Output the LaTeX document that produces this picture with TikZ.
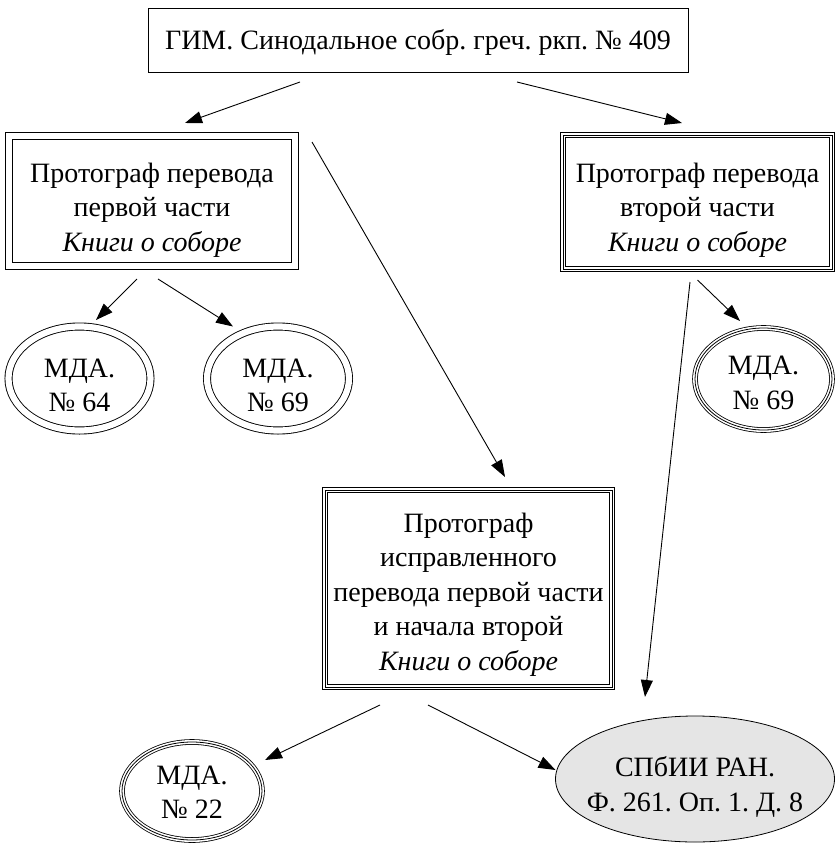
\documentclass[tikz,border=0pt]{standalone}
\usepackage{fontspec}
\setmainfont{Liberation Serif}
\usetikzlibrary{arrows.meta,shapes.geometric}
\frenchspacing
\begin{document}
\begin{tikzpicture}[x=1pt,y=-1pt,
  every node/.style={inner sep=0pt, outer sep=0pt},
  txt/.style={font=\fontsize{28}{34.5}\selectfont, align=center},
  singlebox/.style={rectangle, draw, line width=0.8pt},
  dblbox/.style={rectangle, draw, double, double distance=6.9pt, line width=0.9pt},
  trplbox/.style={rectangle, draw, double, double distance=4.2pt, line width=0.8pt},
  dblell/.style={ellipse, draw, double, double distance=6.2pt, line width=0.9pt},
  trplell/.style={ellipse, draw, double, double distance=4pt, line width=0.8pt},
  grayell/.style={ellipse, draw, line width=0.8pt, fill=black!10},
  midline/.style={line width=0.8pt},
  arr/.style={line width=0.9pt, -{Triangle[length=17pt,width=12pt]}}
]
\useasboundingbox (0,0) rectangle (836,843);

% ---- shapes ----
\node[singlebox, minimum width=540pt, minimum height=64pt] (top) at (418,40) {};
\node[dblbox, minimum width=286pt, minimum height=130pt] (left) at (152,201) {};
\node[trplbox, minimum width=269pt, minimum height=134pt] (right) at (697.5,202) {};
\draw[midline] (right.north west) rectangle (right.south east);
\node[dblell, minimum width=142pt, minimum height=104pt] (L1) at (79.5,378.5) {};
\node[dblell, minimum width=142pt, minimum height=104pt] (L2) at (278,378.5) {};
\node[trplell, minimum width=137pt, minimum height=102pt] (R) at (763.5,379) {};
\draw[midline] (R.center) ellipse [x radius=68.5pt, y radius=51pt];
\node[trplbox, minimum width=287pt, minimum height=197pt] (mid) at (468.5,588.5) {};
\draw[midline] (mid.north west) rectangle (mid.south east);
\node[trplell, minimum width=140pt, minimum height=98pt] (B22) at (192,791) {};
\draw[midline] (B22.center) ellipse [x radius=70pt, y radius=49pt];
\node[grayell, minimum width=279pt, minimum height=126pt] (S) at (695,779) {};

% ---- texts ----
\node[txt] (topT) at ([yshift=-2pt]top.center) {ГИМ. Синодальное собр. греч. ркп. № 409};
\node[txt] (leftT) at ([yshift=-9pt]left.center) {Протограф перевода\\первой части\\\textit{Книги о соборе}};
\node[txt] (rightT) at ([yshift=-8pt]right.center) {Протограф перевода\\второй части\\\textit{Книги о соборе}};
\node[txt] (L1T) at ([yshift=-7pt]L1.center) {МДА.\\№ 64};
\node[txt] (L2T) at ([yshift=-7pt]L2.center) {МДА.\\№ 69};
\node[txt] (RT) at ([yshift=-4pt]R.center) {МДА.\\№ 69};
\node[txt] (midT) at ([yshift=-6pt]mid.center) {Протограф\\исправленного\\перевода первой части\\и начала второй\\\textit{Книги о соборе}};
\node[txt] (B22T) at ([yshift=-1pt]B22.center) {МДА.\\№ 22};
\node[txt] (ST) at ([yshift=-8pt]S.center) {СПбИИ РАН.\\Ф. 261. Оп. 1. Д. 8};

% ---- connectors ----
\draw[arr] ([xshift=-118pt,yshift=-10pt]top.south) -- ([xshift=33pt,yshift=13pt]left.north);
\draw[arr] ([xshift=99pt,yshift=-10pt]top.south) -- ([xshift=-15.5pt,yshift=12pt]right.north);
\draw[arr] ([xshift=-15pt,yshift=-13pt]left.south) -- ([xshift=16.5pt,yshift=6.5pt]L1.north);
\draw[arr] ([xshift=6pt,yshift=-13pt]left.south) -- ([xshift=-45pt]L2.north);
\draw[arr] ([xshift=17pt,yshift=-6pt]left.north east) -- ([xshift=36.5pt,yshift=13pt]mid.north);
\draw[arr] ([yshift=-11pt]right.south) -- ([xshift=-23.5pt,yshift=7pt]R.north);
\draw[arr] ([xshift=-7.5pt,yshift=-13pt]right.south) -- ([xshift=-50pt,yshift=19pt]S.north);
\draw[arr] ([xshift=-88.5pt,yshift=-18pt]mid.south) -- ([xshift=3pt,yshift=31pt]B22.east);
\draw[arr] ([xshift=-40.5pt,yshift=-18pt]mid.south) -- ([yshift=9pt]S.west);
\end{tikzpicture}
\end{document}
